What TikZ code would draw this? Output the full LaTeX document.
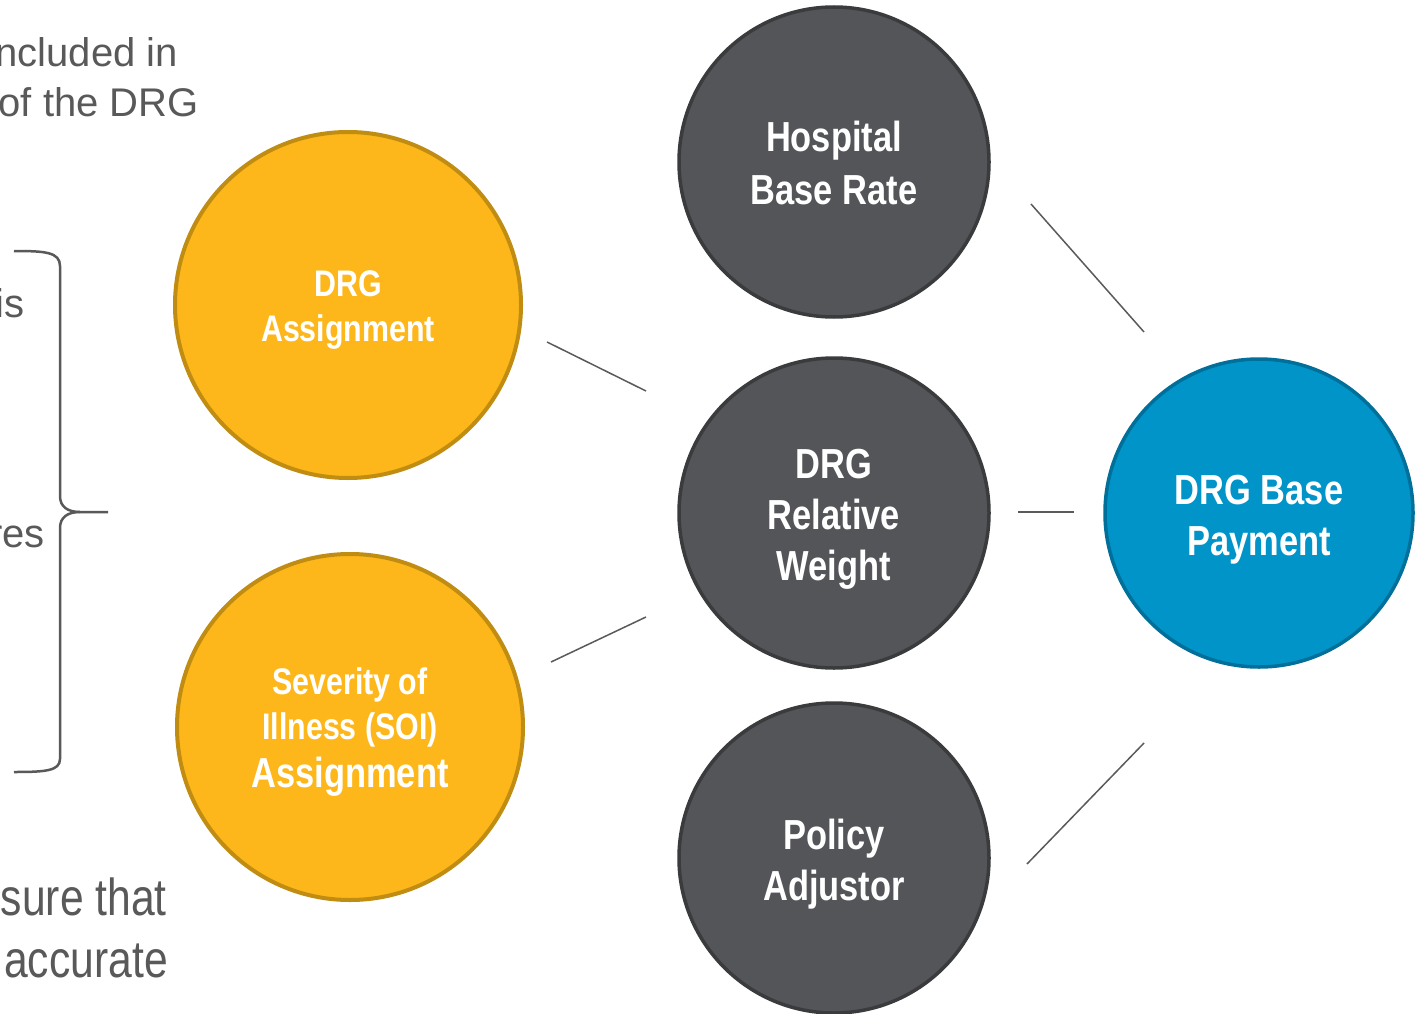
\documentclass[tikz,border=0pt]{standalone}
\usepackage{fontspec}
\setmainfont{Liberation Sans}
\newfontfamily\narrowfont[FakeStretch=0.82]{Liberation Sans}
\newfontfamily\narrowbold[FakeStretch=0.82]{Liberation Sans Bold}
\definecolor{txtgray}{HTML}{595959}
\definecolor{orfill}{HTML}{FDB71A}
\definecolor{ordraw}{HTML}{C08D12}
\definecolor{dkfill}{HTML}{545558}
\definecolor{dkdraw}{HTML}{3A3B3D}
\definecolor{blfill}{HTML}{0094C9}
\definecolor{bldraw}{HTML}{006F99}
\definecolor{linegray}{HTML}{5A5A5A}
\tikzset{
  orcircle/.style={circle, minimum size=346pt, inner sep=0pt, fill=orfill, draw=ordraw, line width=4pt},
  dkcircle/.style={circle, minimum size=310pt, inner sep=0pt, fill=dkfill, draw=dkdraw, line width=3.5pt},
  blcircle/.style={circle, minimum size=308pt, inner sep=0pt, fill=blfill, draw=bldraw, line width=3.5pt},
  intext/.style={text=white, align=center, inner sep=0pt},
  conn/.style={draw=linegray, line width=1.5pt},
  sidetext/.style={text=txtgray, anchor=base east, inner sep=0pt},
  bracepath/.style={draw=txtgray, line width=2.5pt, line join=round}
}
\begin{document}
\begin{tikzpicture}[x=1pt, y=-1pt]
\useasboundingbox (0,0) rectangle (1421,1014);
\clip (0,0) rectangle (1421,1014);
\fill[white] (0,0) rectangle (1421,1014);

% left side text fragments
\node[sidetext, font=\fontsize{40}{48}\selectfont] (t1) at (178,67) {ncluded in};
\node[sidetext, font=\fontsize{40}{48}\selectfont] (t2) at (199,117) {of the DRG};
\node[sidetext, font=\fontsize{40}{48}\selectfont] (t3) at (25,317) {is};
\node[sidetext, font=\fontsize{40}{48}\selectfont] (t4) at (45,547) {res};
\node[sidetext, font=\narrowfont\fontsize{52}{60}\selectfont] (t5) at (167,915) {sure that};
\node[sidetext, font=\narrowfont\fontsize{52}{60}\selectfont] (t6) at (168,977) {accurate};

% brace
\draw[bracepath] (14,251) .. controls (45,251) and (60,252) .. (60,266) -- (60,496)
  .. controls (60,507) and (68,512) .. (80,512) -- (108,512);
\draw[bracepath] (80,512) .. controls (68,512) and (60,517) .. (60,528) -- (60,759)
  .. controls (60,771) and (45,772) .. (14,772);

% circles
\node[orcircle] (drga) at (348,305) {};
\node[orcircle] (soi) at (350,727) {};
\node[dkcircle] (hbr) at (834,162) {};
\node[dkcircle] (rw) at (834,513) {};
\node[dkcircle] (pa) at (834,858) {};
\node[blcircle] (bp) at (1259,513) {};

% circle texts
\node[intext, font=\narrowbold\fontsize{37}{45}\selectfont, yshift=-5pt] (drgat) at (drga) {DRG\\Assignment};
\node[intext, font=\narrowbold\fontsize{37}{45}\selectfont, yshift=-5pt] (soit) at (soi) {Severity of\\Illness (SOI)\\[3pt]\fontsize{42}{48}\selectfont Assignment};
\node[intext, font=\narrowbold\fontsize{42}{53}\selectfont, yshift=-1pt] (hbrt) at (hbr) {Hospital\\Base Rate};
\node[intext, font=\narrowbold\fontsize{42}{51}\selectfont, yshift=-6pt] (rwt) at (rw) {DRG\\Relative\\Weight};
\node[intext, font=\narrowbold\fontsize{42}{51}\selectfont, yshift=-6pt] (pat) at (pa) {Policy\\Adjustor};
\node[intext, font=\narrowbold\fontsize{42}{51}\selectfont, yshift=-7pt] (bpt) at (bp) {DRG Base\\Payment};

% connector end points
\coordinate (c1a) at (547,342); \coordinate (c1b) at (646,391);
\coordinate (c2a) at (551,662); \coordinate (c2b) at (646,617);
\coordinate (c3a) at (1018,512); \coordinate (c3b) at (1074,512);
\coordinate (c4a) at (1031,204); \coordinate (c4b) at (1144,332);
\coordinate (c5a) at (1027,864); \coordinate (c5b) at (1144,743);
\draw[conn] (c1a) -- (c1b);
\draw[conn] (c2a) -- (c2b);
\draw[conn] (c3a) -- (c3b);
\draw[conn] (c4a) -- (c4b);
\draw[conn] (c5a) -- (c5b);
\end{tikzpicture}
\end{document}
